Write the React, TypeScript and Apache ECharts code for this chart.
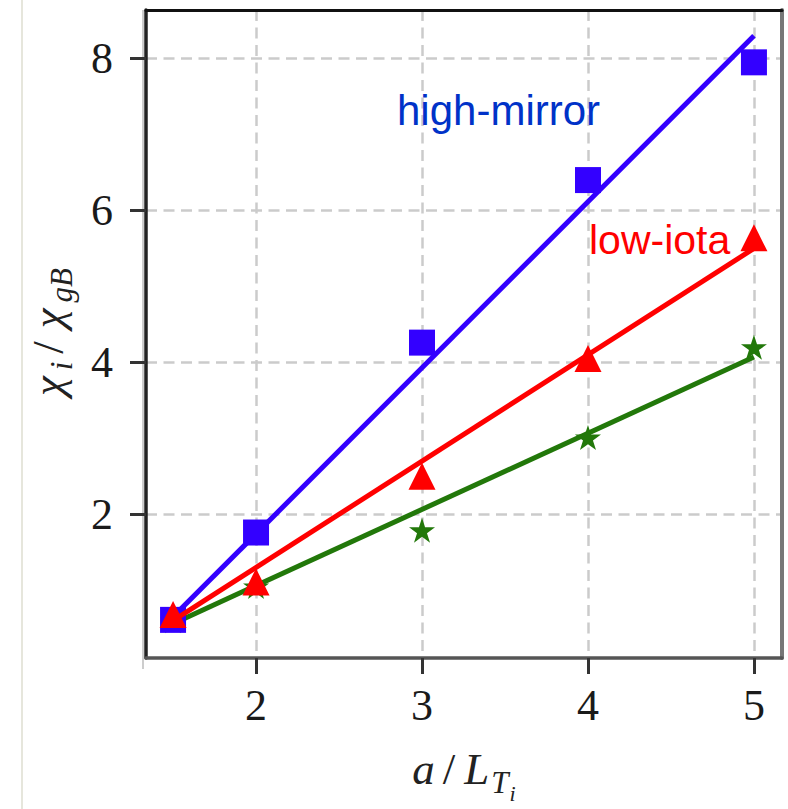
import React, { useEffect, useRef } from "react";
import * as echarts from "echarts";

// Tick values
const xTicks = [2, 3, 4, 5];
const yTicks = [2, 4, 6, 8];

// Measured points (a/L_Ti)
const xPoints = [1.5, 2, 3, 4, 5];
const highMirror = [0.61, 1.76, 4.26, 6.4, 7.95];
const lowIota = [0.68, 1.11, 2.5, 4.05, 5.64];
const standard = [0.6, 1.05, 1.79, 3.01, 4.2];

// Fitted straight lines (end points)
const fitX = [1.5, 5];
const highMirrorFit = [0.65, 8.3];
const lowIotaFit = [0.6, 5.5];
const standardFit = [0.56, 4.07];

const BLUE = "#3300ff";
const RED = "#ff0000";
const GREEN = "#22780a";

const STAR =
  "path://M50,0L61.2,34.5L97.6,34.5L68.2,55.9L79.4,90.5L50,69.1L20.6,90.5L31.8,55.9L2.4,34.5L38.8,34.5Z";

const pairs = (xs: number[], ys: number[]) => xs.map((x, i) => [x, ys[i]]);

const SERIF = "'Liberation Serif', 'DejaVu Serif', serif";
const SANS = "'Liberation Sans', Arial, sans-serif";

export default function App() {
  const ref = useRef<HTMLDivElement>(null);

  useEffect(() => {
    if (!ref.current) return;
    const chart = echarts.init(ref.current, undefined, { renderer: "svg" });

    const xMin = 1.337;
    const xMax = 5.169;
    const yMin = 0.108;
    const yMax = 8.639;

    const split = {
      show: true,
      lineStyle: { color: "#cbcbcb", width: 2.5, type: [11, 6.5] as any },
    };

    const base = {
      fontStyle: "italic",
      fontFamily: SERIF,
      verticalAlign: "top",
      color: "#222",
    };
    const mainRich = {
      m: { ...base, fontSize: 45, lineHeight: 45 },
      c: { ...base, fontSize: 45, lineHeight: 45, padding: [0, 4, 0, 4] },
      sl: { ...base, fontStyle: "normal", fontSize: 45, lineHeight: 45, padding: [0, 9, 0, 8] },
      s: { ...base, fontSize: 31, lineHeight: 31, padding: [21, 0, 0, 2] },
      ss: { ...base, fontSize: 22, lineHeight: 22, padding: [36, 0, 0, 1] },
    };

    const option: any = {
      animation: false,
      backgroundColor: "#ffffff",
      grid: { left: 146, right: 6, top: 10, bottom: 142, containLabel: false },
      xAxis: [
        {
          type: "value",
          min: xMin,
          max: xMax,
          position: "bottom",
          axisLine: { show: true, onZero: false, lineStyle: { color: "#555", width: 3.5 } },
          axisTick: {
            show: true,
            customValues: xTicks,
            length: 16,
            lineStyle: { color: "#333", width: 3 },
          },
          axisLabel: {
            customValues: xTicks,
            margin: 25,
            fontSize: 44,
            fontFamily: SERIF,
            color: "#1a1a1a",
          },
          splitLine: split,
          name: "{m|a}{sl|/}{m|L}{s|T}{ss|i}",
          nameLocation: "middle",
          nameGap: 88,
          nameTextStyle: { rich: mainRich },
        },
        {
          type: "value",
          min: xMin,
          max: xMax,
          position: "top",
          axisLine: { show: true, onZero: false, lineStyle: { color: "#111", width: 3 } },
          axisTick: { show: false },
          axisLabel: { show: false },
          splitLine: { show: false },
        },
      ],
      yAxis: [
        {
          type: "value",
          min: yMin,
          max: yMax,
          position: "left",
          axisLine: { show: true, onZero: false, lineStyle: { color: "#222", width: 3.5 } },
          axisTick: {
            show: true,
            customValues: yTicks,
            length: 16,
            lineStyle: { color: "#333", width: 3 },
          },
          axisLabel: {
            customValues: yTicks,
            margin: 33,
            fontSize: 44,
            fontFamily: SERIF,
            color: "#1a1a1a",
          },
          splitLine: split,
          name: "{c|χ}{s|i}{sl|/}{c|χ}{s|gB}",
          nameLocation: "middle",
          nameRotate: 90,
          nameGap: 76,
          nameTextStyle: { rich: mainRich },
        },
        {
          type: "value",
          min: yMin,
          max: yMax,
          position: "right",
          axisLine: { show: true, onZero: false, lineStyle: { color: "#777", width: 4 } },
          axisTick: { show: false },
          axisLabel: { show: false },
          splitLine: { show: false },
        },
      ],
      series: [
        {
          type: "line",
          data: pairs(fitX, standardFit),
          showSymbol: false,
          symbol: "none",
          lineStyle: { color: GREEN, width: 5 },
          z: 2,
        },
        {
          type: "scatter",
          data: pairs(xPoints, standard),
          symbol: STAR,
          symbolSize: [26, 25],
          itemStyle: { color: GREEN, opacity: 1 },
          z: 3,
        },
        {
          type: "line",
          data: pairs(fitX, highMirrorFit),
          showSymbol: false,
          symbol: "none",
          lineStyle: { color: BLUE, width: 5 },
          z: 4,
        },
        {
          type: "scatter",
          data: pairs(xPoints, highMirror),
          symbol: "rect",
          symbolSize: 26,
          itemStyle: { color: BLUE, opacity: 1 },
          z: 5,
        },
        {
          type: "line",
          data: pairs(fitX, lowIotaFit),
          showSymbol: false,
          symbol: "none",
          lineStyle: { color: RED, width: 5 },
          z: 6,
        },
        {
          type: "scatter",
          data: pairs(xPoints, lowIota),
          symbol: "triangle",
          symbolSize: [27, 27],
          itemStyle: { color: RED, opacity: 1 },
          z: 7,
        },
      ],
      graphic: [
        {
          type: "line",
          shape: { x1: 22, y1: 0, x2: 22, y2: 809 },
          style: { stroke: "#e6e6dc", lineWidth: 2 },
          silent: true,
        },
        {
          type: "line",
          shape: { x1: 143, y1: 10, x2: 143, y2: 669 },
          style: { stroke: "#bdbdbd", lineWidth: 1.5 },
          silent: true,
        },
        {
          type: "text",
          x: 397,
          y: 110,
          style: {
            text: "high-mirror",
            fontSize: 42,
            fontFamily: SANS,
            fill: "#0032c8",
            align: "left",
            verticalAlign: "middle",
          },
          z: 10,
        },
        {
          type: "text",
          x: 589,
          y: 240,
          style: {
            text: "low-iota",
            fontSize: 41,
            fontFamily: SANS,
            fill: RED,
            align: "left",
            verticalAlign: "middle",
          },
          z: 10,
        },
      ],
    };

    chart.setOption(option);
    return () => chart.dispose();
  }, []);

  return (
    <div
      ref={ref}
      style={{ position: "absolute", left: 0, top: 0, width: 788, height: 809 }}
    />
  );
}
